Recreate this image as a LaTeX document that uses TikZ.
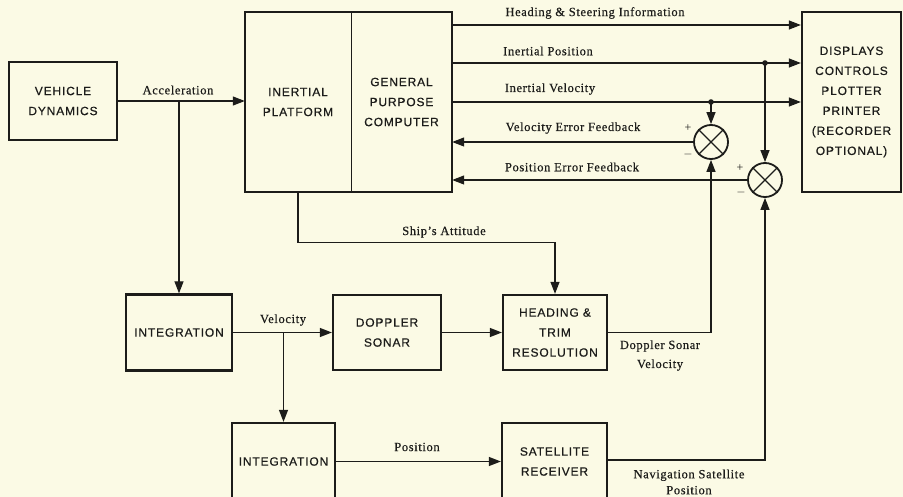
\documentclass[tikz,border=0pt]{standalone}
\usepackage{fontspec}
\setmainfont{Liberation Serif}
\newfontfamily\boxfont[LetterSpace=7,FakeBold=0.6]{Liberation Sans}
\newfontfamily\lblfont[LetterSpace=5,FakeBold=0.4]{Liberation Serif}
\usetikzlibrary{arrows.meta}
\definecolor{paper}{RGB}{251,250,229}
\definecolor{ink}{RGB}{28,28,26}
\begin{document}
\begin{tikzpicture}[x=1pt,y=-1pt,
  blk/.style={draw=ink,line width=2.3pt,inner sep=0pt,align=center,text=ink,
    font=\boxfont\fontsize{12}{20}\selectfont},
  blktext/.style={inner sep=0pt,align=center,text=ink,
    font=\boxfont\fontsize{12}{20}\selectfont},
  lbl/.style={inner sep=0pt,align=center,text=ink,
    font=\lblfont\fontsize{12.5}{16}\selectfont},
  conn/.style={draw=ink,line width=1.2pt},
  arr/.style={conn,-{Triangle[length=12pt,width=9pt]}},
  sumj/.style={circle,draw=ink,line width=1.8pt,minimum size=34pt,inner sep=0pt},
  sgn/.style={inner sep=0pt,text=ink,font=\fontsize{12}{12}\selectfont}]
\fill[paper] (0,0) rectangle (903,497);
\useasboundingbox (0,0) rectangle (903,497);
\clip (0,0) rectangle (903,497);

% blocks
\node[blk,minimum width=108pt,minimum height=78pt] (vd) at (63,101) {VEHICLE\\DYNAMICS};
\node[blktext,minimum width=106pt,minimum height=180pt] (ip) at (298,102) {INERTIAL\\PLATFORM};
\node[blktext,minimum width=101pt,minimum height=180pt] (gpc) at (401.5,102) {GENERAL\\PURPOSE\\COMPUTER};
\draw[ink,line width=2.3pt] (ip.north west) rectangle (gpc.south east);
\draw[ink,line width=1.3pt] (ip.north east) -- (ip.south east);
\node[blk,minimum width=99pt,minimum height=180pt] (disp) at (851.5,102) {DISPLAYS\\CONTROLS\\PLOTTER\\PRINTER\\(RECORDER\\OPTIONAL)};

\node[blk,minimum width=106pt,minimum height=76pt] (int1) at (179,332.5) {INTEGRATION};
\node[blk,minimum width=108pt,minimum height=75pt] (dop) at (387,332.5) {DOPPLER\\SONAR};
\node[blk,minimum width=104pt,minimum height=75pt] (ht) at (555,332.5) {HEADING \&\\TRIM\\RESOLUTION};
\node[blk,minimum width=103pt,minimum height=77pt] (int2) at (283.5,461.5) {INTEGRATION};
\node[blk,minimum width=105pt,minimum height=77pt] (sat) at (554.5,461.5) {SATELLITE\\RECEIVER};

% summing junctions
\node[sumj] (s1) at (711,142) {};
\node[sumj] (s2) at (765,180) {};
\draw[ink,line width=1.3pt] (s1.north west) -- (s1.south east) (s1.north east) -- (s1.south west);
\draw[ink,line width=1.3pt] (s2.north west) -- (s2.south east) (s2.north east) -- (s2.south west);
\node[sgn] (p1) at (688,128) {+};
\node[sgn] (m1) at (688,155) {$-$};
\node[sgn] (p2) at (740,168) {+};
\node[sgn] (m2) at (741,193) {$-$};

% output lines
\coordinate (yH) at (600,25);
\coordinate (yP) at (600,63);
\coordinate (yV) at (600,102);
\draw[arr] (gpc.east |- yH) -- (disp.west |- yH);
\draw[arr] (gpc.east |- yP) -- (disp.west |- yP);
\draw[arr] (gpc.east |- yV) -- (disp.west |- yV);
\node[lbl] (lH) at (595,13) {Heading \& Steering Information};
\node[lbl] (lP) at (548,51) {Inertial Position};
\node[lbl] (lV) at (550,89) {Inertial Velocity};
\node[lbl] (lVE) at (573,128) {Velocity Error Feedback};
\node[lbl] (lPE) at (572,167) {Position Error Feedback};

% feedback
\coordinate (dV) at (711,102);
\coordinate (dP) at (765,63);
\fill[ink] (dV) circle (2.8pt);
\fill[ink] (dP) circle (2.8pt);
\draw[arr] (dV) -- (s1.north);
\draw[arr] (dP) -- (s2.north);
\draw[arr] (s1.west) -- (s1.west -| gpc.east);
\draw[arr] (s2.west) -- (s2.west -| gpc.east);

% acceleration
\draw[arr] (vd.east) -- (ip.west |- vd.east);
\node[lbl] (lA) at (178,90) {Acceleration};
\draw[arr] (int1.north |- vd.east) -- (int1.north);

% velocity
\draw[arr] (int1.east) -- (dop.west);
\node[lbl] (lVel) at (283,320) {Velocity};
\coordinate (bV) at (283.5,332.5);
\draw[arr] (bV) -- (int2.north);
\draw[arr] (dop.east) -- (ht.west);

% ship's attitude
\draw[arr] (ip.south) -- ++(0,50) -| (ht.north);
\node[lbl] (lS) at (444,232) {Ship’s Attitude};

% doppler sonar velocity
\draw[arr] (ht.east) -| (s1.south);
\node[lbl,font=\lblfont\fontsize{12.5}{19}\selectfont] (lD) at (660,355.5) {Doppler Sonar\\Velocity};

% position
\draw[arr] (int2.east) -- (sat.west);
\node[lbl] (lPos) at (417,447) {Position};
\draw[arr] (sat.east |- 0,460) -| (s2.south);
\node[lbl] (lN) at (689,482) {Navigation Satellite\\Position};
\end{tikzpicture}
\end{document}
